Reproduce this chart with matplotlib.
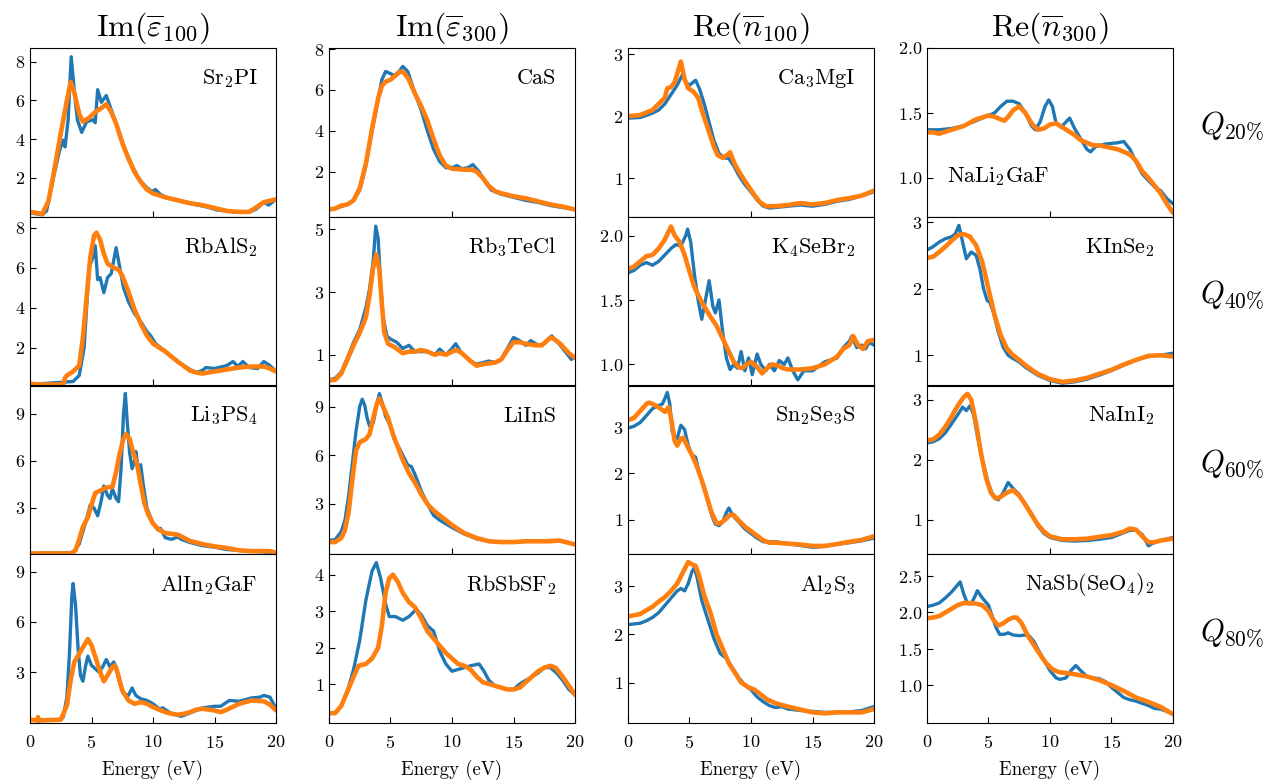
import matplotlib
matplotlib.use("Agg")
import matplotlib.pyplot as plt

plt.rcParams["font.family"] = "serif"
plt.rcParams["font.serif"] = ["cmr10"]
plt.rcParams["mathtext.fontset"] = "cm"
plt.rcParams["axes.formatter.use_mathtext"] = True
plt.rcParams["axes.unicode_minus"] = False

# spectra as (energy in eV, value) pairs; _ref = reference, _pred = model
sr2pi_ref = [(0, 0.2), (0.5, 0.15), (1.0, 0.1), (1.35, 0.3), (1.9, 2.0), (2.4, 3.4), (2.7, 3.95), (2.85, 3.6),
             (3.1, 5.0), (3.35, 8.25), (3.6, 6.5), (3.85, 5.0), (4.2, 4.35), (4.6, 4.9), (5.15, 5.0), (5.3, 4.85),
             (5.5, 6.55), (5.8, 5.9), (6.2, 6.25), (6.5, 5.7), (6.9, 5.0), (7.3, 4.25), (7.7, 3.5), (8.4, 2.5),
             (8.9, 1.9), (9.5, 1.5), (9.9, 1.3), (10.2, 1.4), (10.6, 1.15), (11.1, 1.0), (12.2, 0.8), (13.3, 0.65),
             (14.4, 0.5), (15.2, 0.35), (16.5, 0.25), (17.9, 0.25), (18.4, 0.4), (19.0, 0.75), (19.4, 0.6), (20, 0.9)]
sr2pi_pred = [(0, 0.25), (0.5, 0.2), (1.0, 0.15), (1.5, 0.8), (2.0, 2.5), (2.5, 4.3), (3.0, 6.0), (3.3, 6.95),
              (3.6, 6.4), (4.0, 5.3), (4.3, 4.9), (4.8, 5.1), (5.3, 5.4), (5.8, 5.6), (6.2, 5.8), (6.6, 5.4),
              (7.0, 4.8), (7.5, 3.8), (8.0, 3.0), (8.5, 2.3), (9.0, 1.8), (9.5, 1.4), (10, 1.2), (11, 1.0),
              (12, 0.85), (13, 0.7), (14, 0.6), (15, 0.45), (16, 0.3), (17, 0.25), (17.8, 0.25), (18.3, 0.45),
              (19, 0.75), (20, 0.9)]

rbals2_ref = [(0, 0.15), (3.5, 0.3), (4.0, 0.6), (4.4, 2.0), (4.6, 4.0), (4.8, 6.0), (5.1, 6.5), (5.3, 7.1),
              (5.5, 5.4), (5.7, 5.5), (6.0, 4.75), (6.3, 5.5), (6.6, 5.7), (7.0, 7.0), (7.3, 6.0), (7.6, 5.0),
              (8.0, 4.3), (8.5, 3.7), (9.0, 3.3), (9.5, 2.8), (9.8, 2.6), (10.2, 2.2), (11, 1.8), (12, 1.3),
              (13, 0.9), (13.5, 0.75), (14, 0.85), (14.3, 1.0), (15, 0.95), (16, 1.1), (16.5, 1.3), (16.9, 1.05),
              (17.3, 1.3), (17.8, 1.0), (18.5, 0.95), (19, 1.3), (19.5, 1.1), (20, 0.8)]
rbals2_pred = [(0, 0.2), (0.5, 0.15), (2.7, 0.15), (2.85, 0.5), (3.0, 0.6), (3.5, 0.8), (4.0, 1.1), (4.3, 2.5),
               (4.6, 4.5), (4.9, 6.5), (5.2, 7.6), (5.4, 7.75), (5.7, 7.4), (6.0, 6.7), (6.3, 6.2), (6.8, 6.0),
               (7.2, 5.9), (7.5, 5.6), (8.0, 4.8), (8.5, 3.9), (9.0, 3.2), (9.5, 2.6), (10, 2.2), (11, 1.8),
               (12, 1.3), (13, 0.85), (13.5, 0.75), (14, 0.7), (15, 0.8), (16, 0.9), (17, 1.0), (18, 1.05),
               (19, 1.05), (19.5, 0.95), (20, 0.8)]

li3ps4_ref = [(0, 0.1), (3.5, 0.15), (4.0, 0.7), (4.3, 1.5), (4.6, 2.3), (4.9, 3.2), (5.2, 3.0), (5.5, 2.5),
              (5.8, 3.5), (6.0, 4.4), (6.3, 3.8), (6.5, 3.6), (6.7, 4.2), (7.0, 3.6), (7.2, 3.4), (7.4, 5.5),
              (7.6, 9.0), (7.75, 10.3), (7.9, 8.5), (8.1, 6.5), (8.3, 5.5), (8.5, 6.0), (8.6, 6.6), (8.8, 5.5),
              (9.0, 5.75), (9.2, 4.5), (9.5, 3.0), (10, 2.0), (10.4, 1.6), (10.6, 1.7), (11, 1.1), (11.5, 1.0),
              (12, 1.15), (12.3, 1.0), (13, 0.8), (14, 0.6), (15, 0.5), (16, 0.35), (17, 0.3), (18, 0.25),
              (19, 0.2), (20, 0.15)]
li3ps4_pred = [(0, 0.1), (3.3, 0.1), (3.7, 0.3), (4.0, 1.0), (4.3, 1.8), (4.7, 2.4), (5.0, 3.2), (5.3, 3.95),
               (5.7, 4.1), (6.2, 4.3), (6.7, 4.35), (7.0, 5.3), (7.3, 6.5), (7.6, 7.4), (7.8, 7.7), (8.1, 7.4),
               (8.4, 6.5), (8.7, 5.8), (9.0, 4.5), (9.3, 3.3), (9.6, 2.6), (10, 2.0), (10.5, 1.6), (11, 1.4),
               (11.5, 1.35), (12, 1.3), (12.5, 1.1), (13, 0.9), (14, 0.7), (15, 0.55), (16, 0.45), (17, 0.3),
               (18, 0.25), (19.5, 0.25), (20, 0.15)]

alin2gaf_ref = [(0, 0.15), (2.5, 0.15), (2.7, 0.3), (3.0, 1.5), (3.2, 4.0), (3.4, 7.5), (3.5, 8.3), (3.7, 7.0),
                (3.9, 4.5), (4.1, 2.8), (4.3, 2.45), (4.5, 3.3), (4.7, 3.95), (5.0, 3.4), (5.3, 3.2), (5.6, 3.0),
                (5.9, 3.3), (6.2, 3.75), (6.5, 3.3), (6.8, 3.6), (7.0, 3.3), (7.3, 2.3), (7.6, 1.7), (8.0, 1.6),
                (8.3, 2.05), (8.6, 1.6), (9, 1.4), (9.5, 1.3), (10, 1.1), (10.5, 0.8), (10.8, 0.85), (11.3, 0.6),
                (12, 0.4), (12.3, 0.35), (13, 0.55), (14, 0.85), (15, 0.95), (15.5, 0.95), (16.2, 1.3), (17, 1.25),
                (18, 1.45), (18.7, 1.5), (19, 1.6), (19.5, 1.5), (20, 0.8)]
alin2gaf_pred = [(0, 0.15), (0.6, 0.1), (0.65, 0.3), (0.7, 0.1), (2.5, 0.15), (3.0, 1.0), (3.3, 2.5), (3.6, 3.6),
                 (4.0, 4.1), (4.4, 4.6), (4.7, 4.97), (5.0, 4.6), (5.4, 3.7), (5.8, 2.8), (6.0, 2.45), (6.3, 2.8),
                 (6.7, 3.3), (6.9, 3.4), (7.1, 3.0), (7.5, 1.9), (8.0, 1.3), (8.5, 1.1), (9.0, 1.2), (9.5, 1.1),
                 (10, 0.9), (10.5, 0.75), (11, 0.6), (11.5, 0.5), (12, 0.45), (12.5, 0.5), (13, 0.6), (13.5, 0.75),
                 (14, 0.8), (15, 0.7), (15.5, 0.6), (16, 0.75), (17, 1.1), (18, 1.3), (19, 1.25), (19.5, 1.05),
                 (20, 0.7)]

cas_ref = [(0, 0.2), (0.5, 0.2), (1, 0.3), (1.5, 0.4), (2.0, 0.6), (2.5, 1.1), (3.0, 2.3), (3.5, 4.0), (4.0, 5.6),
           (4.3, 6.5), (4.6, 6.9), (5.0, 6.8), (5.3, 6.7), (5.7, 6.9), (6.0, 7.15), (6.4, 6.9), (6.9, 6.0),
           (7.5, 5.0), (8.0, 4.0), (8.5, 3.1), (9.0, 2.5), (9.5, 2.2), (10, 2.2), (10.4, 2.3), (10.8, 2.15),
           (11.3, 2.2), (11.7, 2.35), (12.2, 2.0), (12.7, 1.5), (13.2, 1.1), (14, 0.9), (15, 0.75), (16, 0.6),
           (17, 0.5), (18, 0.35), (19, 0.25), (20, 0.15)]
cas_pred = [(0, 0.15), (0.5, 0.2), (1, 0.35), (1.5, 0.4), (2, 0.6), (2.5, 1.2), (3.0, 2.4), (3.5, 4.1), (4.0, 5.6),
            (4.3, 6.2), (4.6, 6.4), (5.0, 6.5), (5.4, 6.7), (5.8, 6.9), (6.1, 6.85), (6.5, 6.5), (7.0, 5.8),
            (7.5, 5.2), (8.0, 4.5), (8.5, 3.6), (9.0, 2.8), (9.5, 2.3), (10, 2.15), (11, 2.1), (11.6, 2.1),
            (12, 2.0), (12.5, 1.7), (13, 1.3), (13.5, 1.05), (14, 0.95), (15, 0.8), (16, 0.7), (17, 0.55),
            (18, 0.4), (19, 0.3), (20, 0.15)]

rb3tecl_ref = [(0, 0.2), (0.5, 0.25), (1.0, 0.45), (1.5, 0.9), (2.0, 1.4), (2.5, 1.8), (3.0, 2.5), (3.3, 3.1),
               (3.6, 4.0), (3.8, 5.1), (4.0, 4.7), (4.2, 3.2), (4.4, 2.2), (4.7, 1.6), (5.0, 1.5), (5.5, 1.4),
               (6.0, 1.2), (6.5, 1.3), (7.0, 1.1), (8.0, 1.1), (8.6, 1.0), (9.0, 1.18), (9.5, 1.0), (10.0, 1.2),
               (10.3, 1.35), (10.7, 1.1), (11.5, 0.8), (12.0, 0.7), (12.5, 0.75), (13.0, 0.8), (13.5, 0.75),
               (14.0, 0.85), (14.5, 1.2), (15.0, 1.55), (15.5, 1.45), (16.0, 1.3), (16.4, 1.45), (16.8, 1.35),
               (17.2, 1.3), (17.6, 1.4), (18.1, 1.6), (18.6, 1.4), (19.2, 1.1), (19.7, 0.85), (20, 0.95)]
rb3tecl_pred = [(0, 0.18), (0.5, 0.2), (1.0, 0.4), (1.5, 0.85), (2.0, 1.3), (2.5, 1.7), (3.0, 2.2), (3.3, 2.9),
                (3.6, 3.8), (3.85, 4.2), (4.1, 3.7), (4.3, 2.6), (4.5, 1.7), (4.8, 1.35), (5.3, 1.25), (6.0, 1.05),
                (6.5, 1.1), (7.0, 1.1), (7.5, 1.15), (8.0, 1.1), (8.6, 1.0), (9.0, 1.05), (9.5, 1.0), (10.0, 1.1),
                (10.4, 1.15), (10.8, 1.05), (11.5, 0.8), (12.0, 0.65), (12.5, 0.7), (13.5, 0.75), (14.0, 0.85),
                (14.5, 1.15), (15.0, 1.4), (15.5, 1.4), (16.0, 1.35), (16.8, 1.3), (17.3, 1.3), (18.0, 1.55),
                (18.3, 1.5), (18.8, 1.35), (19.5, 1.05), (20, 0.9)]

liins_ref = [(0, 0.75), (0.5, 0.8), (1.0, 1.3), (1.3, 2.0), (1.6, 3.5), (1.9, 5.5), (2.2, 7.5), (2.5, 9.0),
             (2.7, 9.45), (2.9, 9.1), (3.1, 8.3), (3.3, 7.8), (3.6, 8.0), (3.9, 9.2), (4.1, 9.8), (4.3, 9.3),
             (4.6, 8.4), (5.0, 7.8), (5.3, 7.0), (5.6, 6.6), (6.0, 6.0), (6.4, 5.4), (6.7, 5.3), (7.0, 4.8),
             (7.5, 3.8), (8.0, 3.0), (8.5, 2.3), (9.0, 2.0), (10, 1.55), (11, 1.15), (12, 0.85), (13, 0.7),
             (14, 0.65), (15, 0.65), (16, 0.7), (17, 0.7), (18, 0.75), (19, 0.7), (20, 0.5)]
liins_pred = [(0, 0.65), (0.5, 0.65), (1.0, 0.9), (1.3, 1.4), (1.6, 2.5), (1.9, 4.5), (2.2, 6.3), (2.5, 6.8),
              (3.0, 7.0), (3.3, 7.3), (3.6, 8.3), (3.9, 9.2), (4.1, 9.5), (4.4, 9.0), (4.8, 8.3), (5.2, 7.3),
              (5.6, 6.5), (6.0, 5.7), (6.5, 4.9), (7.0, 4.3), (7.5, 3.6), (8.0, 3.0), (8.5, 2.6), (9.0, 2.3),
              (10, 1.7), (11, 1.2), (12, 0.9), (13, 0.7), (14, 0.65), (15, 0.65), (16, 0.7), (17, 0.7),
              (18, 0.7), (18.7, 0.75), (19.5, 0.6), (20, 0.5)]

rbsbsf2_ref = [(0, 0.2), (0.5, 0.2), (1.0, 0.4), (1.5, 0.8), (2.0, 1.4), (2.5, 2.2), (3.0, 3.3), (3.5, 4.1),
               (3.85, 4.33), (4.2, 3.9), (4.6, 3.2), (4.9, 2.85), (5.4, 2.85), (6.0, 2.75), (6.5, 2.85),
               (7.1, 3.05), (7.5, 2.9), (8.0, 2.6), (8.5, 2.45), (9.0, 1.9), (9.5, 1.55), (10.0, 1.35),
               (10.5, 1.4), (11.0, 1.45), (11.5, 1.5), (12.2, 1.55), (12.6, 1.35), (13.0, 1.1), (13.5, 0.95),
               (14.0, 0.9), (14.5, 0.85), (15.0, 0.85), (15.5, 1.0), (16.0, 1.1), (16.5, 1.2), (17.0, 1.3),
               (17.5, 1.45), (18.0, 1.45), (18.5, 1.3), (19.0, 1.1), (19.5, 0.85), (20, 0.7)]
rbsbsf2_pred = [(0, 0.2), (0.5, 0.2), (1.0, 0.4), (1.5, 0.8), (2.0, 1.2), (2.4, 1.5), (3.0, 1.55), (3.5, 1.7),
                (4.0, 2.0), (4.3, 2.6), (4.6, 3.5), (4.9, 3.9), (5.2, 4.0), (5.6, 3.8), (6.0, 3.5), (6.5, 3.25),
                (7.0, 3.1), (7.5, 2.8), (8.0, 2.45), (8.5, 2.25), (9.0, 2.05), (9.5, 1.85), (10, 1.7), (10.5, 1.55),
                (11.0, 1.5), (11.5, 1.4), (12, 1.2), (12.5, 1.05), (13, 1.0), (13.5, 0.95), (14, 0.9), (14.5, 0.85),
                (15, 0.85), (15.5, 0.9), (16, 1.05), (16.5, 1.2), (17, 1.35), (17.5, 1.45), (18.0, 1.5),
                (18.4, 1.45), (19, 1.2), (19.5, 0.95), (20, 0.7)]

ca3mgi_ref = [(0, 1.97), (1, 1.98), (2, 2.05), (2.5, 2.1), (3.0, 2.2), (3.5, 2.35), (4.0, 2.5), (4.45, 2.68),
              (4.7, 2.55), (5.0, 2.5), (5.5, 2.58), (5.8, 2.45), (6.2, 2.2), (6.6, 1.9), (7.0, 1.6), (7.4, 1.4),
              (7.8, 1.33), (8.2, 1.32), (8.6, 1.2), (9.0, 1.05), (9.5, 0.9), (10, 0.78), (10.5, 0.65), (11, 0.55),
              (11.5, 0.52), (12, 0.53), (13, 0.55), (14, 0.57), (15, 0.55), (16, 0.58), (17, 0.63), (18, 0.66),
              (19, 0.72), (20, 0.78)]
ca3mgi_pred = [(0, 2.0), (1, 2.02), (2, 2.1), (2.5, 2.2), (3.0, 2.3), (3.2, 2.45), (3.5, 2.47), (3.8, 2.55),
               (4.1, 2.75), (4.3, 2.88), (4.6, 2.6), (4.9, 2.45), (5.3, 2.4), (5.7, 2.3), (6.0, 2.1), (6.5, 1.8),
               (7.0, 1.5), (7.3, 1.37), (7.7, 1.33), (8.1, 1.38), (8.3, 1.42), (8.7, 1.22), (9.2, 1.05), (9.7, 0.9),
               (10.2, 0.75), (10.7, 0.62), (11.2, 0.55), (12, 0.55), (13, 0.57), (14, 0.6), (15, 0.58), (16, 0.6),
               (17, 0.65), (18, 0.68), (19, 0.72), (20, 0.8)]

k4sebr2_ref = [(0, 1.71), (0.5, 1.73), (1.0, 1.77), (1.5, 1.79), (2.0, 1.77), (2.5, 1.8), (3.0, 1.85), (3.5, 1.9),
               (3.9, 1.93), (4.3, 1.92), (4.7, 2.0), (4.85, 2.05), (5.1, 1.95), (5.4, 1.7), (5.7, 1.5), (6.0, 1.35),
               (6.3, 1.5), (6.6, 1.65), (6.9, 1.45), (7.1, 1.4), (7.4, 1.5), (7.7, 1.25), (8.0, 1.05), (8.3, 0.96),
               (8.6, 1.0), (8.9, 0.97), (9.2, 1.1), (9.5, 0.95), (9.8, 1.05), (10.1, 0.92), (10.5, 1.08), (10.8, 1.0),
               (11.2, 0.95), (11.5, 1.0), (11.9, 0.95), (12.3, 1.03), (12.7, 1.0), (13.0, 1.05), (13.4, 0.95),
               (13.8, 0.88), (14.3, 0.95), (15, 0.95), (16, 1.02), (17, 1.05), (17.5, 1.13), (18.0, 1.18),
               (18.2, 1.22), (18.6, 1.13), (19.0, 1.15), (19.3, 1.12), (19.6, 1.17), (20, 1.15)]
k4sebr2_pred = [(0, 1.74), (0.5, 1.76), (1.0, 1.8), (1.5, 1.84), (2.0, 1.85), (2.5, 1.9), (3.0, 1.97), (3.5, 2.07),
                (3.8, 2.0), (4.2, 1.95), (4.6, 1.85), (5.0, 1.72), (5.4, 1.6), (5.8, 1.52), (6.2, 1.45), (6.7, 1.37),
                (7.2, 1.3), (7.7, 1.2), (8.2, 1.1), (8.6, 1.02), (9.0, 0.98), (9.3, 0.97), (9.5, 0.99), (10.0, 1.02),
                (10.5, 0.98), (10.9, 0.93), (11.3, 0.97), (11.7, 1.0), (12.2, 0.99), (12.6, 0.97), (13, 0.96),
                (14, 0.96), (15, 0.97), (16, 1.0), (17, 1.06), (17.5, 1.12), (18.0, 1.15), (18.3, 1.22),
                (18.7, 1.15), (19.1, 1.12), (19.5, 1.18), (20, 1.19)]

sn2se3s_ref = [(0, 2.98), (0.5, 3.02), (1.0, 3.1), (1.5, 3.25), (2.0, 3.4), (2.5, 3.47), (2.8, 3.5), (3.0, 3.62),
               (3.2, 3.75), (3.4, 3.5), (3.6, 2.9), (3.8, 2.8), (4.0, 2.75), (4.3, 3.04), (4.6, 2.95), (4.9, 2.6),
               (5.2, 2.4), (5.5, 2.35), (5.8, 2.0), (6.2, 1.7), (6.5, 1.4), (6.8, 1.1), (7.1, 0.9), (7.4, 0.87),
               (7.7, 0.95), (8.0, 1.15), (8.2, 1.25), (8.5, 1.1), (9.0, 0.95), (9.5, 0.8), (10, 0.7), (10.5, 0.6),
               (11, 0.52), (12, 0.52), (13, 0.48), (14, 0.44), (15, 0.4), (16, 0.42), (17, 0.47), (18, 0.5),
               (19, 0.54), (20, 0.6)]
sn2se3s_pred = [(0, 3.15), (0.5, 3.2), (1.0, 3.35), (1.5, 3.5), (1.7, 3.53), (2.0, 3.5), (2.5, 3.43), (3.0, 3.33),
                (3.3, 3.43), (3.5, 3.2), (3.8, 2.7), (4.0, 2.6), (4.3, 2.75), (4.5, 2.77), (4.8, 2.6), (5.2, 2.4),
                (5.6, 2.15), (6.0, 1.85), (6.4, 1.5), (6.8, 1.15), (7.2, 0.92), (7.5, 0.92), (7.9, 1.0), (8.3, 1.1),
                (8.6, 1.1), (9.0, 0.98), (9.5, 0.85), (10.0, 0.75), (10.5, 0.65), (11, 0.55), (11.5, 0.5), (12, 0.5),
                (13, 0.48), (14, 0.46), (15, 0.43), (16, 0.43), (17, 0.47), (18, 0.52), (19, 0.56), (20, 0.64)]

al2s3_ref = [(0, 2.2), (1.0, 2.23), (1.5, 2.28), (2.0, 2.35), (2.5, 2.45), (3.0, 2.6), (3.5, 2.75), (4.0, 2.9),
             (4.3, 2.95), (4.6, 2.9), (4.9, 3.05), (5.2, 3.3), (5.4, 3.38), (5.6, 3.2), (6.0, 2.7), (6.5, 2.3),
             (7.0, 1.9), (7.5, 1.6), (8.0, 1.5), (8.5, 1.3), (9.0, 1.1), (9.5, 0.95), (10, 0.85), (10.5, 0.7),
             (11, 0.6), (11.5, 0.52), (12, 0.48), (12.5, 0.5), (13, 0.45), (14, 0.42), (15, 0.4), (16, 0.38),
             (17, 0.38), (18, 0.39), (19, 0.42), (20, 0.5)]
al2s3_pred = [(0, 2.37), (1.0, 2.42), (1.5, 2.5), (2.0, 2.57), (2.5, 2.68), (3.0, 2.77), (3.5, 2.9), (4.0, 3.05),
              (4.5, 3.3), (4.9, 3.5), (5.2, 3.45), (5.5, 3.42), (5.8, 3.2), (6.2, 2.8), (6.7, 2.45), (7.2, 2.0),
              (7.7, 1.7), (8.2, 1.4), (8.7, 1.2), (9.2, 1.0), (9.8, 0.9), (10.3, 0.85), (10.8, 0.75), (11.3, 0.65),
              (12, 0.57), (13, 0.5), (14, 0.44), (15, 0.38), (16, 0.36), (17, 0.38), (18, 0.38), (19, 0.38),
              (20, 0.45)]

nali2gaf_ref = [(0, 1.37), (1, 1.37), (2, 1.38), (3, 1.4), (4, 1.44), (5, 1.48), (5.5, 1.5), (6.0, 1.55),
                (6.5, 1.59), (7.0, 1.59), (7.5, 1.57), (8.0, 1.5), (8.5, 1.4), (8.8, 1.37), (9.2, 1.43),
                (9.6, 1.55), (9.9, 1.6), (10.2, 1.55), (10.5, 1.42), (10.9, 1.39), (11.3, 1.43), (11.6, 1.46),
                (12, 1.38), (12.5, 1.3), (13.0, 1.22), (13.3, 1.2), (13.7, 1.24), (14.5, 1.26), (15.5, 1.27),
                (16.0, 1.28), (16.5, 1.22), (17, 1.12), (17.5, 1.03), (18, 0.98), (18.5, 0.93), (19, 0.9),
                (19.5, 0.84), (20, 0.8)]
nali2gaf_pred = [(0, 1.35), (0.5, 1.35), (1, 1.34), (2, 1.37), (3, 1.4), (4, 1.45), (5, 1.48), (5.5, 1.47),
                 (6.0, 1.45), (6.3, 1.44), (6.6, 1.47), (7.0, 1.52), (7.5, 1.55), (8.0, 1.5), (8.5, 1.42),
                 (9.0, 1.37), (9.5, 1.38), (10, 1.41), (10.5, 1.42), (11, 1.39), (11.5, 1.36), (12, 1.33),
                 (12.5, 1.29), (13, 1.27), (13.5, 1.25), (14, 1.25), (15, 1.23), (15.5, 1.22), (16, 1.2),
                 (16.5, 1.18), (17, 1.13), (17.5, 1.05), (18, 1.0), (18.5, 0.94), (19, 0.88), (19.5, 0.8),
                 (20, 0.73)]

kinse2_ref = [(0, 2.58), (0.5, 2.63), (1.0, 2.7), (1.5, 2.75), (2.0, 2.78), (2.3, 2.82), (2.6, 2.95), (2.9, 2.7),
              (3.2, 2.45), (3.6, 2.55), (4.0, 2.5), (4.3, 2.3), (4.6, 2.0), (4.9, 1.82), (5.1, 1.8), (5.4, 1.65),
              (5.8, 1.35), (6.2, 1.12), (6.6, 1.0), (7.0, 0.95), (7.5, 0.9), (8, 0.82), (9, 0.7), (10, 0.62),
              (11, 0.58), (12, 0.6), (13, 0.64), (14, 0.7), (15, 0.77), (16, 0.85), (17, 0.93), (18, 0.98),
              (19, 1.0), (20, 1.03)]
kinse2_pred = [(0, 2.46), (0.5, 2.48), (1.0, 2.55), (1.5, 2.63), (2.0, 2.72), (2.5, 2.8), (3.0, 2.82), (3.5, 2.78),
               (4.0, 2.65), (4.5, 2.4), (5.0, 2.0), (5.5, 1.6), (6.0, 1.3), (6.5, 1.1), (7.0, 1.0), (7.5, 0.93),
               (8, 0.85), (9, 0.72), (10, 0.64), (11, 0.6), (12, 0.62), (13, 0.66), (14, 0.72), (15, 0.78),
               (16, 0.86), (17, 0.93), (18, 0.99), (19, 1.0), (20, 0.98)]

nainl2_ref = [(0, 2.28), (0.5, 2.3), (1.0, 2.35), (1.5, 2.45), (2.0, 2.6), (2.5, 2.75), (2.9, 2.88), (3.2, 2.82),
              (3.5, 2.9), (3.8, 2.75), (4.1, 2.4), (4.5, 2.0), (5.0, 1.6), (5.4, 1.38), (5.8, 1.33), (6.2, 1.45),
              (6.6, 1.62), (7.0, 1.52), (7.5, 1.42), (8.0, 1.25), (8.5, 1.1), (9.0, 0.9), (9.5, 0.77), (10, 0.7),
              (11, 0.65), (12, 0.64), (13, 0.65), (14, 0.67), (15, 0.7), (16, 0.78), (16.5, 0.82), (17.0, 0.82),
              (17.5, 0.75), (18.0, 0.56), (18.5, 0.62), (19, 0.65), (20, 0.7)]
nainl2_pred = [(0, 2.32), (0.5, 2.34), (1.0, 2.42), (1.5, 2.55), (2.0, 2.72), (2.5, 2.9), (3.0, 3.05), (3.3, 3.1),
               (3.6, 3.0), (4.0, 2.6), (4.4, 2.1), (4.8, 1.7), (5.2, 1.45), (5.6, 1.35), (6.0, 1.38), (6.5, 1.45),
               (7.0, 1.49), (7.5, 1.4), (8.0, 1.25), (8.5, 1.08), (9.0, 0.92), (9.5, 0.8), (10, 0.72), (11, 0.67),
               (12, 0.67), (13, 0.68), (14, 0.71), (15, 0.74), (16, 0.8), (16.5, 0.85), (17.0, 0.83), (17.5, 0.72),
               (18.0, 0.62), (18.5, 0.62), (19, 0.65), (20, 0.68)]

nasbseo4_ref = [(0, 2.08), (0.5, 2.1), (1.0, 2.13), (1.5, 2.2), (2.0, 2.28), (2.5, 2.38), (2.7, 2.42), (3.0, 2.25),
                (3.3, 2.12), (3.6, 2.12), (3.9, 2.22), (4.1, 2.3), (4.5, 2.2), (5.0, 2.1), (5.3, 1.95), (5.6, 1.8),
                (5.9, 1.7), (6.3, 1.7), (6.6, 1.72), (7.0, 1.69), (7.5, 1.68), (8.0, 1.69), (8.3, 1.68), (8.7, 1.6),
                (9.0, 1.5), (9.5, 1.35), (10, 1.2), (10.5, 1.1), (10.8, 1.08), (11.3, 1.1), (11.7, 1.2), (12.1, 1.27),
                (12.5, 1.2), (13.0, 1.12), (13.5, 1.1), (14, 1.09), (14.5, 1.05), (15, 0.97), (15.5, 0.9),
                (16, 0.83), (16.5, 0.8), (17, 0.78), (17.5, 0.75), (18, 0.72), (18.5, 0.68), (19, 0.67),
                (19.5, 0.64), (20, 0.6)]
nasbseo4_pred = [(0, 1.92), (0.5, 1.93), (1.0, 1.95), (1.5, 2.0), (2.0, 2.05), (2.5, 2.1), (3.0, 2.13), (3.5, 2.13),
                 (4.0, 2.12), (4.5, 2.1), (5.0, 2.02), (5.4, 1.9), (5.8, 1.82), (6.2, 1.85), (6.6, 1.9), (7.0, 1.93),
                 (7.3, 1.93), (7.7, 1.85), (8.2, 1.68), (8.7, 1.55), (9.2, 1.42), (9.7, 1.3), (10.2, 1.22),
                 (10.7, 1.18), (11.2, 1.17), (12, 1.15), (13, 1.12), (14, 1.07), (15, 1.0), (16, 0.92), (17, 0.83),
                 (18, 0.77), (19, 0.7), (20, 0.6)]

col_titles = [r"$\mathrm{Im}(\overline{\varepsilon}_{100})$", r"$\mathrm{Im}(\overline{\varepsilon}_{300})$",
              r"$\mathrm{Re}(\overline{n}_{100})$", r"$\mathrm{Re}(\overline{n}_{300})$"]
row_labels = [r"$Q_{20\%}$", r"$Q_{40\%}$", r"$Q_{60\%}$", r"$Q_{80\%}$"]

# (ref, pred, label, ylim, yticks) per panel, row by row
panels = [
    [(sr2pi_ref, sr2pi_pred, r"Sr$_2$PI", (0.0, 8.7), [2, 4, 6, 8]),
     (cas_ref, cas_pred, "CaS", (-0.2, 8.05), [2, 4, 6, 8]),
     (ca3mgi_ref, ca3mgi_pred, r"Ca$_3$MgI", (0.38, 3.1), [1, 2, 3]),
     (nali2gaf_ref, nali2gaf_pred, r"NaLi$_2$GaF", (0.7, 2.0), [1.0, 1.5, 2.0])],
    [(rbals2_ref, rbals2_pred, r"RbAlS$_2$", (0.1, 8.55), [2, 4, 6, 8]),
     (rb3tecl_ref, rb3tecl_pred, r"Rb$_3$TeCl", (0.02, 5.4), [1, 3, 5]),
     (k4sebr2_ref, k4sebr2_pred, r"K$_4$SeBr$_2$", (0.836, 2.146), [1.0, 1.5, 2.0]),
     (kinse2_ref, kinse2_pred, r"KInSe$_2$", (0.545, 3.08), [1, 2, 3])],
    [(li3ps4_ref, li3ps4_pred, r"Li$_3$PS$_4$", (0.05, 10.8), [3, 6, 9]),
     (liins_ref, liins_pred, "LiInS", (-0.1, 10.3), [3, 6, 9]),
     (sn2se3s_ref, sn2se3s_pred, r"Sn$_2$Se$_3$S", (0.25, 3.9), [1, 2, 3]),
     (nainl2_ref, nainl2_pred, r"NaInI$_2$", (0.42, 3.24), [1, 2, 3])],
    [(alin2gaf_ref, alin2gaf_pred, r"AlIn$_2$GaF", (-0.05, 10.05), [3, 6, 9]),
     (rbsbsf2_ref, rbsbsf2_pred, r"RbSbSF$_2$", (-0.07, 4.56), [1, 2, 3, 4]),
     (al2s3_ref, al2s3_pred, r"Al$_2$S$_3$", (0.16, 3.66), [1, 2, 3]),
     (nasbseo4_ref, nasbseo4_pred, r"NaSb(SeO$_4$)$_2$", (0.48, 2.8), [1.0, 1.5, 2.0, 2.5])],
]

fig, axes = plt.subplots(4, 4, figsize=(12.71, 7.83), dpi=100,
                         gridspec_kw=dict(left=30 / 1271, right=1173 / 1271, top=1 - 48 / 783,
                                          bottom=1 - 723 / 783, wspace=0.215, hspace=0.0))

for i in range(4):
    for j in range(4):
        ax = axes[i, j]
        ref, pred, name, ylim, yticks = panels[i][j]
        ex, ey = zip(*ref)
        px, py = zip(*pred)
        ax.plot(ex, ey, color="#1f77b4", lw=2.4, solid_capstyle="round")
        ax.plot(px, py, color="#ff7f0e", lw=3.3, solid_capstyle="round")
        ax.set_xlim(0, 20)
        ax.set_ylim(*ylim)
        ax.set_yticks(yticks)
        ax.tick_params(direction="in", length=4.5, labelsize=13, top=False, right=False)
        ax.tick_params(axis="x", pad=8)
        if i == 3:
            ax.set_xticks([0, 5, 10, 15, 20])
            ax.set_xlabel("Energy (eV)", fontsize=13.5, labelpad=6)
        else:
            ax.set_xticks([10])
            ax.set_xticklabels([])
        if name.startswith("NaLi"):
            ax.text(0.08, 0.24, name, transform=ax.transAxes, fontsize=16, ha="left", va="center")
        else:
            ax.text(0.925, 0.82, name, transform=ax.transAxes, fontsize=16, ha="right", va="center")
        if i == 0:
            ax.set_title(col_titles[j], fontsize=23, pad=9)

for i, lab in enumerate(row_labels):
    bb = axes[i, 3].get_position()
    fig.text(0.969, (bb.y0 + bb.y1) / 2 + 0.008, lab, fontsize=22, ha="center", va="center")

fig.savefig("out.png", dpi=100)
